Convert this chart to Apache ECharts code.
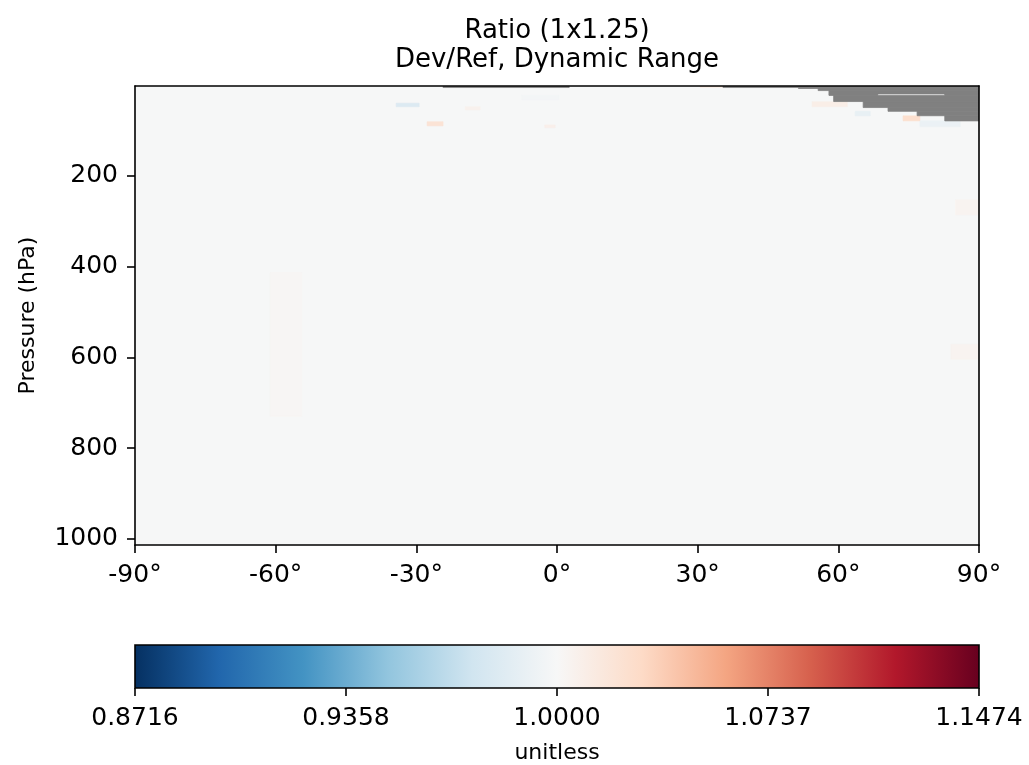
<!DOCTYPE html>
<html><head><meta charset="utf-8">
<script src="https://cdn.jsdelivr.net/npm/echarts@6/dist/echarts.min.js"></script>
<style>html,body{margin:0;padding:0;background:#fff}#c{width:1029px;height:765px}</style>
</head><body><div id="c"></div>
<script>
// ---------- text ----------
const titleLines = ['Ratio (1x1.25)', 'Dev/Ref, Dynamic Range'];
const yAxisName = 'Pressure (hPa)';
const colorbarName = 'unitless';
// ---------- axes ----------
const latRange = [-90, 90];
const latInterval = 30;
const pressureRange = [2.24, 1013.25];
const pressureTicks = [200, 400, 600, 800, 1000];
const colorbarTicks = ['0.8716', '0.9358', '1.0000', '1.0737', '1.1474'];
const ratioMin = 0.8716, ratioCenter = 1.0, ratioMax = 1.1474;
// ---------- data: [latFrom, latTo, pressureTop, pressureBottom, ratio] ----------
const baseField = [[-90, 90, 2.24, 1013.25, 0.9995]];
const anomalies = [
  [30.5, 35.4, 2.24, 4.65, 1.02],
  [13.4, 19.8, 2.24, 4.65, 0.99],
  [-34.3, -29.4, 40, 48, 0.982],
  [-27.7, -24.3, 81, 90, 1.021],
  [-19.6, -16.4, 48, 55, 1.006],
  [-2.6, -0.4, 88, 94, 1.008],
  [-7.5, 0.4, 22, 33, 0.997],
  [54.4, 61.9, 37, 48, 1.01],
  [63.6, 66.8, 58, 68, 0.99],
  [73.8, 77.4, 68, 79, 1.025],
  [77.4, 86.0, 79, 92, 0.992],
  [85, 90, 253, 286, 1.004],
  [84, 90, 571, 604, 1.004],
  [-61.2, -54.4, 413, 730, 1.002]
];
// missing values (grey): [latFrom, latTo, pressureTop, pressureBottom]
const missing = [
  [-24.3, 2.6, 3.0, 5.6],
  [35.4, 90, 3.0, 5.6],
  [51.5, 90, 5.6, 7.76],
  [55.7, 90, 7.76, 12.35],
  [58.0, 90, 12.35, 19.65],
  [58.0, 68.4, 19.65, 22.93],
  [82.7, 90, 19.65, 22.93],
  [59.0, 90, 22.93, 36.48],
  [65.3, 90, 36.48, 49.70],
  [70.6, 90, 49.70, 58.02],
  [76.8, 90, 58.02, 67.73],
  [82.7, 90, 67.73, 79.06]
];
const rdbuR = ['#053061','#2166ac','#4393c3','#92c5de','#d1e5f0','#f7f7f7','#fddbc7','#f4a582','#d6604d','#b2182b','#67001f'];
const FONT = 'DejaVu Sans';

function hexToRgb(h){ return [parseInt(h.substr(1,2),16), parseInt(h.substr(3,2),16), parseInt(h.substr(5,2),16)]; }
function normRatio(v){
  return v < ratioCenter ? 0.5 * (v - ratioMin) / (ratioCenter - ratioMin)
                         : 0.5 + 0.5 * (v - ratioCenter) / (ratioMax - ratioCenter);
}
function cmap(t){
  t = Math.max(0, Math.min(1, t));
  const s = t * (rdbuR.length - 1);
  const i = Math.min(rdbuR.length - 2, Math.floor(s));
  const f = s - i;
  const a = hexToRgb(rdbuR[i]), b = hexToRgb(rdbuR[i+1]);
  const c = a.map((x, k) => Math.round(x + (b[k] - x) * f));
  return 'rgb(' + c.join(',') + ')';
}
function cellRect(params, api){
  const p0 = api.coord([api.value(0), api.value(2)]);
  const p1 = api.coord([api.value(1), api.value(3)]);
  const r = {x: Math.min(p0[0], p1[0]), y: Math.min(p0[1], p1[1]),
             width: Math.abs(p1[0]-p0[0]), height: Math.abs(p1[1]-p0[1])};
  const cs = params.coordSys;
  return echarts.graphic.clipRectByRect(r, {x: cs.x, y: cs.y, width: cs.width, height: cs.height});
}

const chart = echarts.init(document.getElementById('c'), null, {renderer: 'canvas'});
const axisLineStyle = {color: '#000', width: 1.6};
const labelStyle = {color: '#000', fontSize: 25, fontFamily: FONT};

chart.setOption({
  animation: false,
  backgroundColor: '#fff',
  graphic: [
    {type: 'text', x: 557, y: 31, style: {text: titleLines[0], textAlign: 'center', textVerticalAlign: 'middle', font: '26px "DejaVu Sans"', fill: '#000'}},
    {type: 'text', x: 557, y: 60, style: {text: titleLines[1], textAlign: 'center', textVerticalAlign: 'middle', font: '26px "DejaVu Sans"', fill: '#000'}}
  ],
  grid: [
    {left: 135, right: 50, top: 86, bottom: 220, containLabel: false, outerBoundsMode: 'none'},
    {left: 135, right: 50, top: 645, bottom: 77, containLabel: false, outerBoundsMode: 'none'}
  ],
  xAxis: [
    {gridIndex: 0, type: 'value', min: latRange[0], max: latRange[1], interval: latInterval, position: 'bottom', z: 10,
     axisLine: {show: true, onZero: false, lineStyle: axisLineStyle},
     axisTick: {show: true, length: 8, lineStyle: axisLineStyle},
     axisLabel: Object.assign({formatter: v => v + '°', margin: 18}, labelStyle),
     splitLine: {show: false}},
    {gridIndex: 0, type: 'value', min: latRange[0], max: latRange[1], position: 'top', z: 10,
     axisLine: {show: true, onZero: false, lineStyle: axisLineStyle}, axisTick: {show: false}, axisLabel: {show: false}, splitLine: {show: false}},
    {gridIndex: 1, type: 'value', min: 0, max: colorbarTicks.length - 1, interval: 1, position: 'bottom', z: 10,
     axisLine: {show: false, onZero: false},
     axisTick: {show: true, length: 8, lineStyle: axisLineStyle},
     axisLabel: Object.assign({formatter: v => colorbarTicks[v], margin: 18}, labelStyle),
     splitLine: {show: false},
     name: colorbarName, nameLocation: 'middle', nameGap: 54,
     nameTextStyle: {color: '#000', fontSize: 22, fontFamily: FONT}}
  ],
  yAxis: [
    {gridIndex: 0, type: 'value', inverse: true, min: pressureRange[0], max: pressureRange[1], position: 'left', z: 10,
     axisLine: {show: true, onZero: false, lineStyle: axisLineStyle},
     axisTick: {show: true, length: 8, lineStyle: axisLineStyle, customValues: pressureTicks},
     axisLabel: Object.assign({margin: 17, customValues: pressureTicks, formatter: v => String(v)}, labelStyle),
     splitLine: {show: false},
     name: yAxisName, nameLocation: 'middle', nameGap: 96, nameRotate: 90,
     nameTextStyle: {color: '#000', fontSize: 22, fontFamily: FONT}},
    {gridIndex: 0, type: 'value', inverse: true, min: pressureRange[0], max: pressureRange[1], position: 'right', z: 10,
     axisLine: {show: true, onZero: false, lineStyle: axisLineStyle}, axisTick: {show: false}, axisLabel: {show: false}, splitLine: {show: false}},
    {gridIndex: 1, type: 'value', min: 0, max: 1, show: false}
  ],
  series: [
    {type: 'custom', name: 'ratio', xAxisIndex: 0, yAxisIndex: 0, clip: true, z: 2,
     encode: {x: [0, 1], y: [2, 3]},
     data: baseField.concat(anomalies),
     renderItem: (params, api) => {
       const r = cellRect(params, api);
       if (!r) return;
       const col = cmap(normRatio(api.value(4)));
       return {type: 'rect', shape: r, style: {fill: col, stroke: col, lineWidth: 0.6}};
     }},
    {type: 'custom', name: 'missing', xAxisIndex: 0, yAxisIndex: 0, clip: true, z: 3,
     encode: {x: [0, 1], y: [2, 3]},
     data: missing,
     renderItem: (params, api) => {
       const r = cellRect(params, api);
       if (!r) return;
       return {type: 'rect', shape: r, style: {fill: '#808080', stroke: '#808080', lineWidth: 0.8}};
     }},
    {type: 'custom', name: 'colorbar', xAxisIndex: 2, yAxisIndex: 2, z: 2,
     encode: {x: [0, 1], y: [2, 3]},
     data: [[0, colorbarTicks.length - 1, 0, 1]],
     renderItem: (params, api) => {
       const r = cellRect(params, api);
       const stops = rdbuR.map((c, i) => ({offset: i / (rdbuR.length - 1), color: c}));
       return {type: 'rect', shape: r, style: {
         fill: new echarts.graphic.LinearGradient(0, 0, 1, 0, stops),
         stroke: '#000', lineWidth: 1.6}};
     }}
  ]
});
</script>
</body></html>
